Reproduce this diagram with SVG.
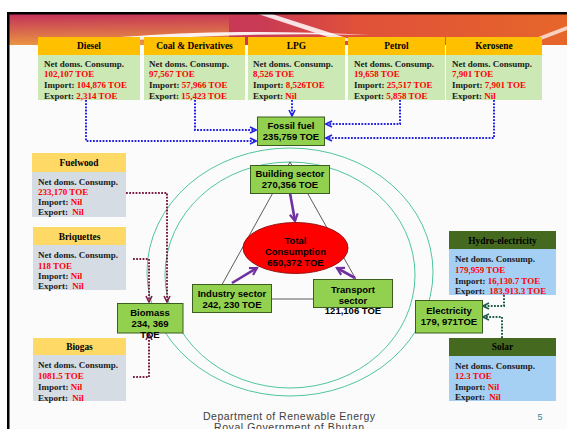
<svg xmlns="http://www.w3.org/2000/svg" width="567" height="429" viewBox="0 0 567 429">
<defs>
<style>
.hdr{font:bold 9.4px "Liberation Serif",serif;text-anchor:middle;fill:#000}
.bd{font:bold 9px "Liberation Serif",serif;fill:#1a1a1a}
.r{fill:#ff0000}
.gb{fill:#92d050;stroke:#3b5e1e;stroke-width:1}
.gt{font:bold 9.5px "Liberation Sans",Arial,sans-serif;text-anchor:middle;fill:#000}
.h1{fill:#ffc000}
.b1{fill:#cce8b5}
.h2{fill:#ffd966}
.b2{fill:#d6dce4}
.h3{fill:#44691f}
.b3{fill:#a6cff4}
.dot{fill:none;stroke-width:2;stroke-dasharray:1.8 1.4}
.blue{stroke:#2323e6}
.mar{stroke:#7a1f48}
.dg{stroke:#1e5c4c}
.pur{fill:none;stroke:#7030a0;stroke-width:2.6}
.ring{fill:none;stroke:#3cc08c;stroke-width:0.9}
</style>
<linearGradient id="bn" x1="0" y1="0" x2="1" y2="0">
<stop offset="0" stop-color="#c2305a"/>
<stop offset="0.45" stop-color="#c93a55"/>
<stop offset="0.62" stop-color="#e0503a"/>
<stop offset="1" stop-color="#e6662a"/>
</linearGradient>
<linearGradient id="bn2" x1="0" y1="0" x2="0" y2="1">
<stop offset="0" stop-color="#eea040" stop-opacity="0"/>
<stop offset="1" stop-color="#eea040" stop-opacity="0.9"/>
</linearGradient>
<marker id="mb" viewBox="0 0 8 8" refX="7" refY="4" markerWidth="8" markerHeight="8" markerUnits="userSpaceOnUse" orient="auto"><path d="M1,1 L7,4 L1,7" fill="none" stroke="#2323e6" stroke-width="1.6"/></marker>
<marker id="mm" viewBox="0 0 8 8" refX="7" refY="4" markerWidth="8" markerHeight="8" markerUnits="userSpaceOnUse" orient="auto"><path d="M1,1 L7,4 L1,7" fill="none" stroke="#7a1f48" stroke-width="1.6"/></marker>
<marker id="mg" viewBox="0 0 8 8" refX="7" refY="4" markerWidth="8" markerHeight="8" markerUnits="userSpaceOnUse" orient="auto"><path d="M1,1 L7,4 L1,7" fill="none" stroke="#1e5c4c" stroke-width="1.6"/></marker>
<marker id="mp" viewBox="0 0 10 10" refX="8" refY="5" markerWidth="10" markerHeight="10" markerUnits="userSpaceOnUse" orient="auto"><path d="M1,1 L8,5 L1,9" fill="none" stroke="#7030a0" stroke-width="2.2"/></marker>
</defs>

<rect x="0" y="0" width="567" height="429" fill="#fff"/>
<rect x="9" y="13" width="558" height="416" fill="#fbfbfb"/>
<!-- banner -->
<g id="banner">
<rect x="9" y="14" width="558" height="31" fill="url(#bn)"/>
<rect x="9" y="14" width="220" height="31" fill="url(#bn2)"/>
<path d="M40,46 C120,34 240,28 370,35 C260,32 150,37 40,48 Z" fill="#fff" opacity="0.9"/>
<path d="M258,14 L272,14 L356,41 L340,41 Z" fill="#fff" opacity="0.85"/>
<path d="M520,44 L567,26 L567,30 L528,45 Z" fill="#fff" opacity="0.7"/>
<rect x="9" y="45" width="558" height="4" fill="#fbfbfb"/>
<rect x="7" y="12" width="560" height="2.5" fill="#000"/>
<rect x="7" y="12" width="2.5" height="417" fill="#000"/>
</g>

<!-- rings and triangle -->
<g id="rings">
<ellipse class="ring" cx="290" cy="272" rx="143" ry="124"/>
<ellipse class="ring" cx="290" cy="275" rx="125" ry="113"/>
<path d="M290,162 L214,299 L367,299 Z" fill="none" stroke="#333" stroke-width="0.8"/>
</g>

<!-- connectors -->
<g id="connectors">
<path class="dot blue" d="M86,100 V141 H256" marker-end="url(#mb)"/>
<path class="dot blue" d="M195,100 V130 H256" marker-end="url(#mb)"/>
<path class="dot blue" d="M292,100 V116" marker-end="url(#mb)"/>
<path class="dot blue" d="M400,100 V124 H326" marker-end="url(#mb)"/>
<path class="dot blue" d="M494,100 V138 H326" marker-end="url(#mb)"/>
<path class="dot mar" d="M126,193 H167 V302" marker-end="url(#mm)"/>
<path class="dot mar" d="M133,259 H149 V302" marker-end="url(#mm)"/>
<path class="dot mar" d="M133,377 H149 V334" marker-end="url(#mm)"/>
<path class="dot dg" d="M504,295 V306 H483" marker-end="url(#mg)"/>
<path class="dot dg" d="M502,338 V317 H483" marker-end="url(#mg)"/>
<path class="pur" d="M290,193 L295,221" marker-end="url(#mp)"/>
<path class="pur" d="M232,283 L257,268" marker-end="url(#mp)"/>
<path class="pur" d="M355,278 L337,268" marker-end="url(#mp)"/>
</g>

<!-- top boxes -->
<g id="diesel">
<rect class="h1" x="38" y="37" width="102" height="18"/>
<rect class="b1" x="38" y="55" width="102" height="45"/>
<text class="hdr" x="89" y="49">Diesel</text>
<text class="bd" x="44" y="67">Net doms. Consump.</text>
<text class="bd r" x="44" y="77">102,107 TOE</text>
<text class="bd" x="44" y="88">Import: <tspan class="r">104,876 TOE</tspan></text>
<text class="bd" x="44" y="99">Export: <tspan class="r">2,314 TOE</tspan></text>
</g>
<g id="coal">
<rect class="h1" x="144" y="37" width="101" height="18"/>
<rect class="b1" x="144" y="55" width="101" height="45"/>
<text class="hdr" x="194.5" y="49">Coal &amp; Derivatives</text>
<text class="bd" x="149" y="67">Net doms. Consump.</text>
<text class="bd r" x="149" y="77">97,567 TOE</text>
<text class="bd" x="149" y="88">Import: <tspan class="r">57,966 TOE</tspan></text>
<text class="bd" x="149" y="99">Export: <tspan class="r">15,423 TOE</tspan></text>
</g>
<g id="lpg">
<rect class="h1" x="248" y="37" width="97" height="18"/>
<rect class="b1" x="248" y="55" width="97" height="45"/>
<text class="hdr" x="296.5" y="49">LPG</text>
<text class="bd" x="253" y="67">Net doms. Consump.</text>
<text class="bd r" x="253" y="77">8,526 TOE</text>
<text class="bd" x="253" y="88">Import: <tspan class="r">8,526TOE</tspan></text>
<text class="bd" x="253" y="99">Export: <tspan class="r">Nil</tspan></text>
</g>
<g id="petrol">
<rect class="h1" x="348" y="37" width="97" height="18"/>
<rect class="b1" x="348" y="55" width="97" height="45"/>
<text class="hdr" x="396.5" y="49">Petrol</text>
<text class="bd" x="354" y="67">Net doms. Consump.</text>
<text class="bd r" x="354" y="77">19,658 TOE</text>
<text class="bd" x="354" y="88">Import: <tspan class="r">25,517 TOE</tspan></text>
<text class="bd" x="354" y="99">Export: <tspan class="r">5,858 TOE</tspan></text>
</g>
<g id="kerosene">
<rect class="h1" x="446" y="37" width="96" height="18"/>
<rect class="b1" x="446" y="55" width="96" height="45"/>
<text class="hdr" x="494" y="49">Kerosene</text>
<text class="bd" x="452" y="67">Net doms. Consump.</text>
<text class="bd r" x="452" y="77">7,901 TOE</text>
<text class="bd" x="452" y="88">Import: <tspan class="r">7,901 TOE</tspan></text>
<text class="bd" x="452" y="99">Export: <tspan class="r">Nil</tspan></text>
</g>

<!-- left boxes -->
<g id="fuelwood">
<rect class="h2" x="32" y="153" width="94" height="19"/>
<rect class="b2" x="32" y="172" width="94" height="45"/>
<text class="hdr" x="79" y="165.5">Fuelwood</text>
<text class="bd" x="38" y="184.5">Net doms. Consump.</text>
<text class="bd r" x="38" y="194.5">233,170 TOE</text>
<text class="bd" x="38" y="205">Import: <tspan class="r">Nil</tspan></text>
<text class="bd" x="38" y="215">Export: <tspan class="r" dx="2">Nil</tspan></text>
</g>
<g id="briquettes">
<rect class="h2" x="33" y="227" width="93" height="18"/>
<rect class="b2" x="33" y="245" width="93" height="45"/>
<text class="hdr" x="79.5" y="240">Briquettes</text>
<text class="bd" x="38" y="258">Net doms. Consump.</text>
<text class="bd r" x="38" y="268.5">118 TOE</text>
<text class="bd" x="38" y="279">Import: <tspan class="r">Nil</tspan></text>
<text class="bd" x="38" y="289">Export: <tspan class="r" dx="2">Nil</tspan></text>
</g>
<g id="biogas">
<rect class="h2" x="33" y="338" width="93" height="17"/>
<rect class="b2" x="33" y="355" width="93" height="46"/>
<text class="hdr" x="79.5" y="349.5">Biogas</text>
<text class="bd" x="38" y="368">Net doms. Consump.</text>
<text class="bd r" x="38" y="379">1081.5 TOE</text>
<text class="bd" x="38" y="390">Import: <tspan class="r">Nil</tspan></text>
<text class="bd" x="38" y="400.5">Export: <tspan class="r" dx="2">Nil</tspan></text>
</g>

<!-- right boxes -->
<g id="hydro">
<rect class="h3" x="449" y="231" width="107" height="18"/>
<rect class="b3" x="449" y="249" width="107" height="46"/>
<text class="hdr" x="502.5" y="243.5">Hydro-electricity</text>
<text class="bd" x="455" y="261.5">Net doms. Consump.</text>
<text class="bd r" x="455" y="272.5">179,959 TOE</text>
<text class="bd" x="455" y="283.5">Import: <tspan class="r">16,130.7 TOE</tspan></text>
<text class="bd" x="455" y="294">Export: <tspan class="r" dx="2">183,913.3 TOE</tspan></text>
</g>
<g id="solar">
<rect class="h3" x="449" y="338" width="107" height="18"/>
<rect class="b3" x="449" y="356" width="107" height="45"/>
<text class="hdr" x="502.5" y="349.5">Solar</text>
<text class="bd" x="455" y="369">Net doms. Consump.</text>
<text class="bd r" x="455" y="379">12.3 TOE</text>
<text class="bd" x="455" y="389.5">Import: <tspan class="r">Nil</tspan></text>
<text class="bd" x="455" y="400">Export: <tspan class="r" dx="2">Nil</tspan></text>
</g>

<!-- green nodes -->
<g id="fossil">
<rect class="gb" x="257.5" y="117" width="67" height="28.5"/>
<text class="gt" x="291" y="129">Fossil fuel</text>
<text class="gt" x="291" y="140">235,759 TOE</text>
</g>
<g id="building">
<rect class="gb" x="250.5" y="165.5" width="79" height="28"/>
<text class="gt" x="290" y="177">Building sector</text>
<text class="gt" x="290" y="188">270,356 TOE</text>
</g>
<g id="total">
<ellipse cx="295.5" cy="248" rx="52.5" ry="25.5" fill="#ff0000" stroke="#9a1010" stroke-width="1"/>
<text class="gt" x="295.5" y="243.5">Total</text>
<text class="gt" x="295.5" y="254.5">Consumption</text>
<text class="gt" x="295.5" y="265.5">650,372 TOE</text>
</g>
<g id="industry">
<rect class="gb" x="192.5" y="284.5" width="79" height="28"/>
<text class="gt" x="232" y="296.5">Industry sector</text>
<text class="gt" x="232" y="307.5">242, 230 TOE</text>
</g>
<g id="transport">
<rect class="gb" x="313.5" y="279.5" width="79" height="28"/>
<text class="gt" x="353" y="292.5">Transport</text>
<text class="gt" x="353" y="303.5">sector</text>
<text class="gt" x="353" y="314">121,106 TOE</text>
</g>
<g id="electricity">
<rect class="gb" x="415.5" y="300.5" width="67" height="32.5"/>
<text class="gt" x="449" y="313.5">Electricity</text>
<text class="gt" x="449" y="324.5">179, 971TOE</text>
</g>
<g id="biomass">
<rect class="gb" x="117.5" y="303.5" width="65.5" height="29.5"/>
<text class="gt" x="150" y="316">Biomass</text>
<text class="gt" x="150" y="327">234, 369</text>
<text class="gt" x="150" y="337.5">TOE</text>
</g>

<!-- footer -->
<g id="footer">
<text x="289" y="419.5" font-family="Liberation Sans, Arial, sans-serif" font-size="10.5" fill="#404040" text-anchor="middle" textLength="172">Department of Renewable Energy</text>
<text x="289" y="431" font-family="Liberation Sans, Arial, sans-serif" font-size="10.5" fill="#404040" text-anchor="middle" textLength="150">Royal Government of Bhutan</text>
<text x="540" y="420" font-family="Liberation Sans, Arial, sans-serif" font-size="9" fill="#31849b" text-anchor="middle">5</text>
</g>
</svg>
